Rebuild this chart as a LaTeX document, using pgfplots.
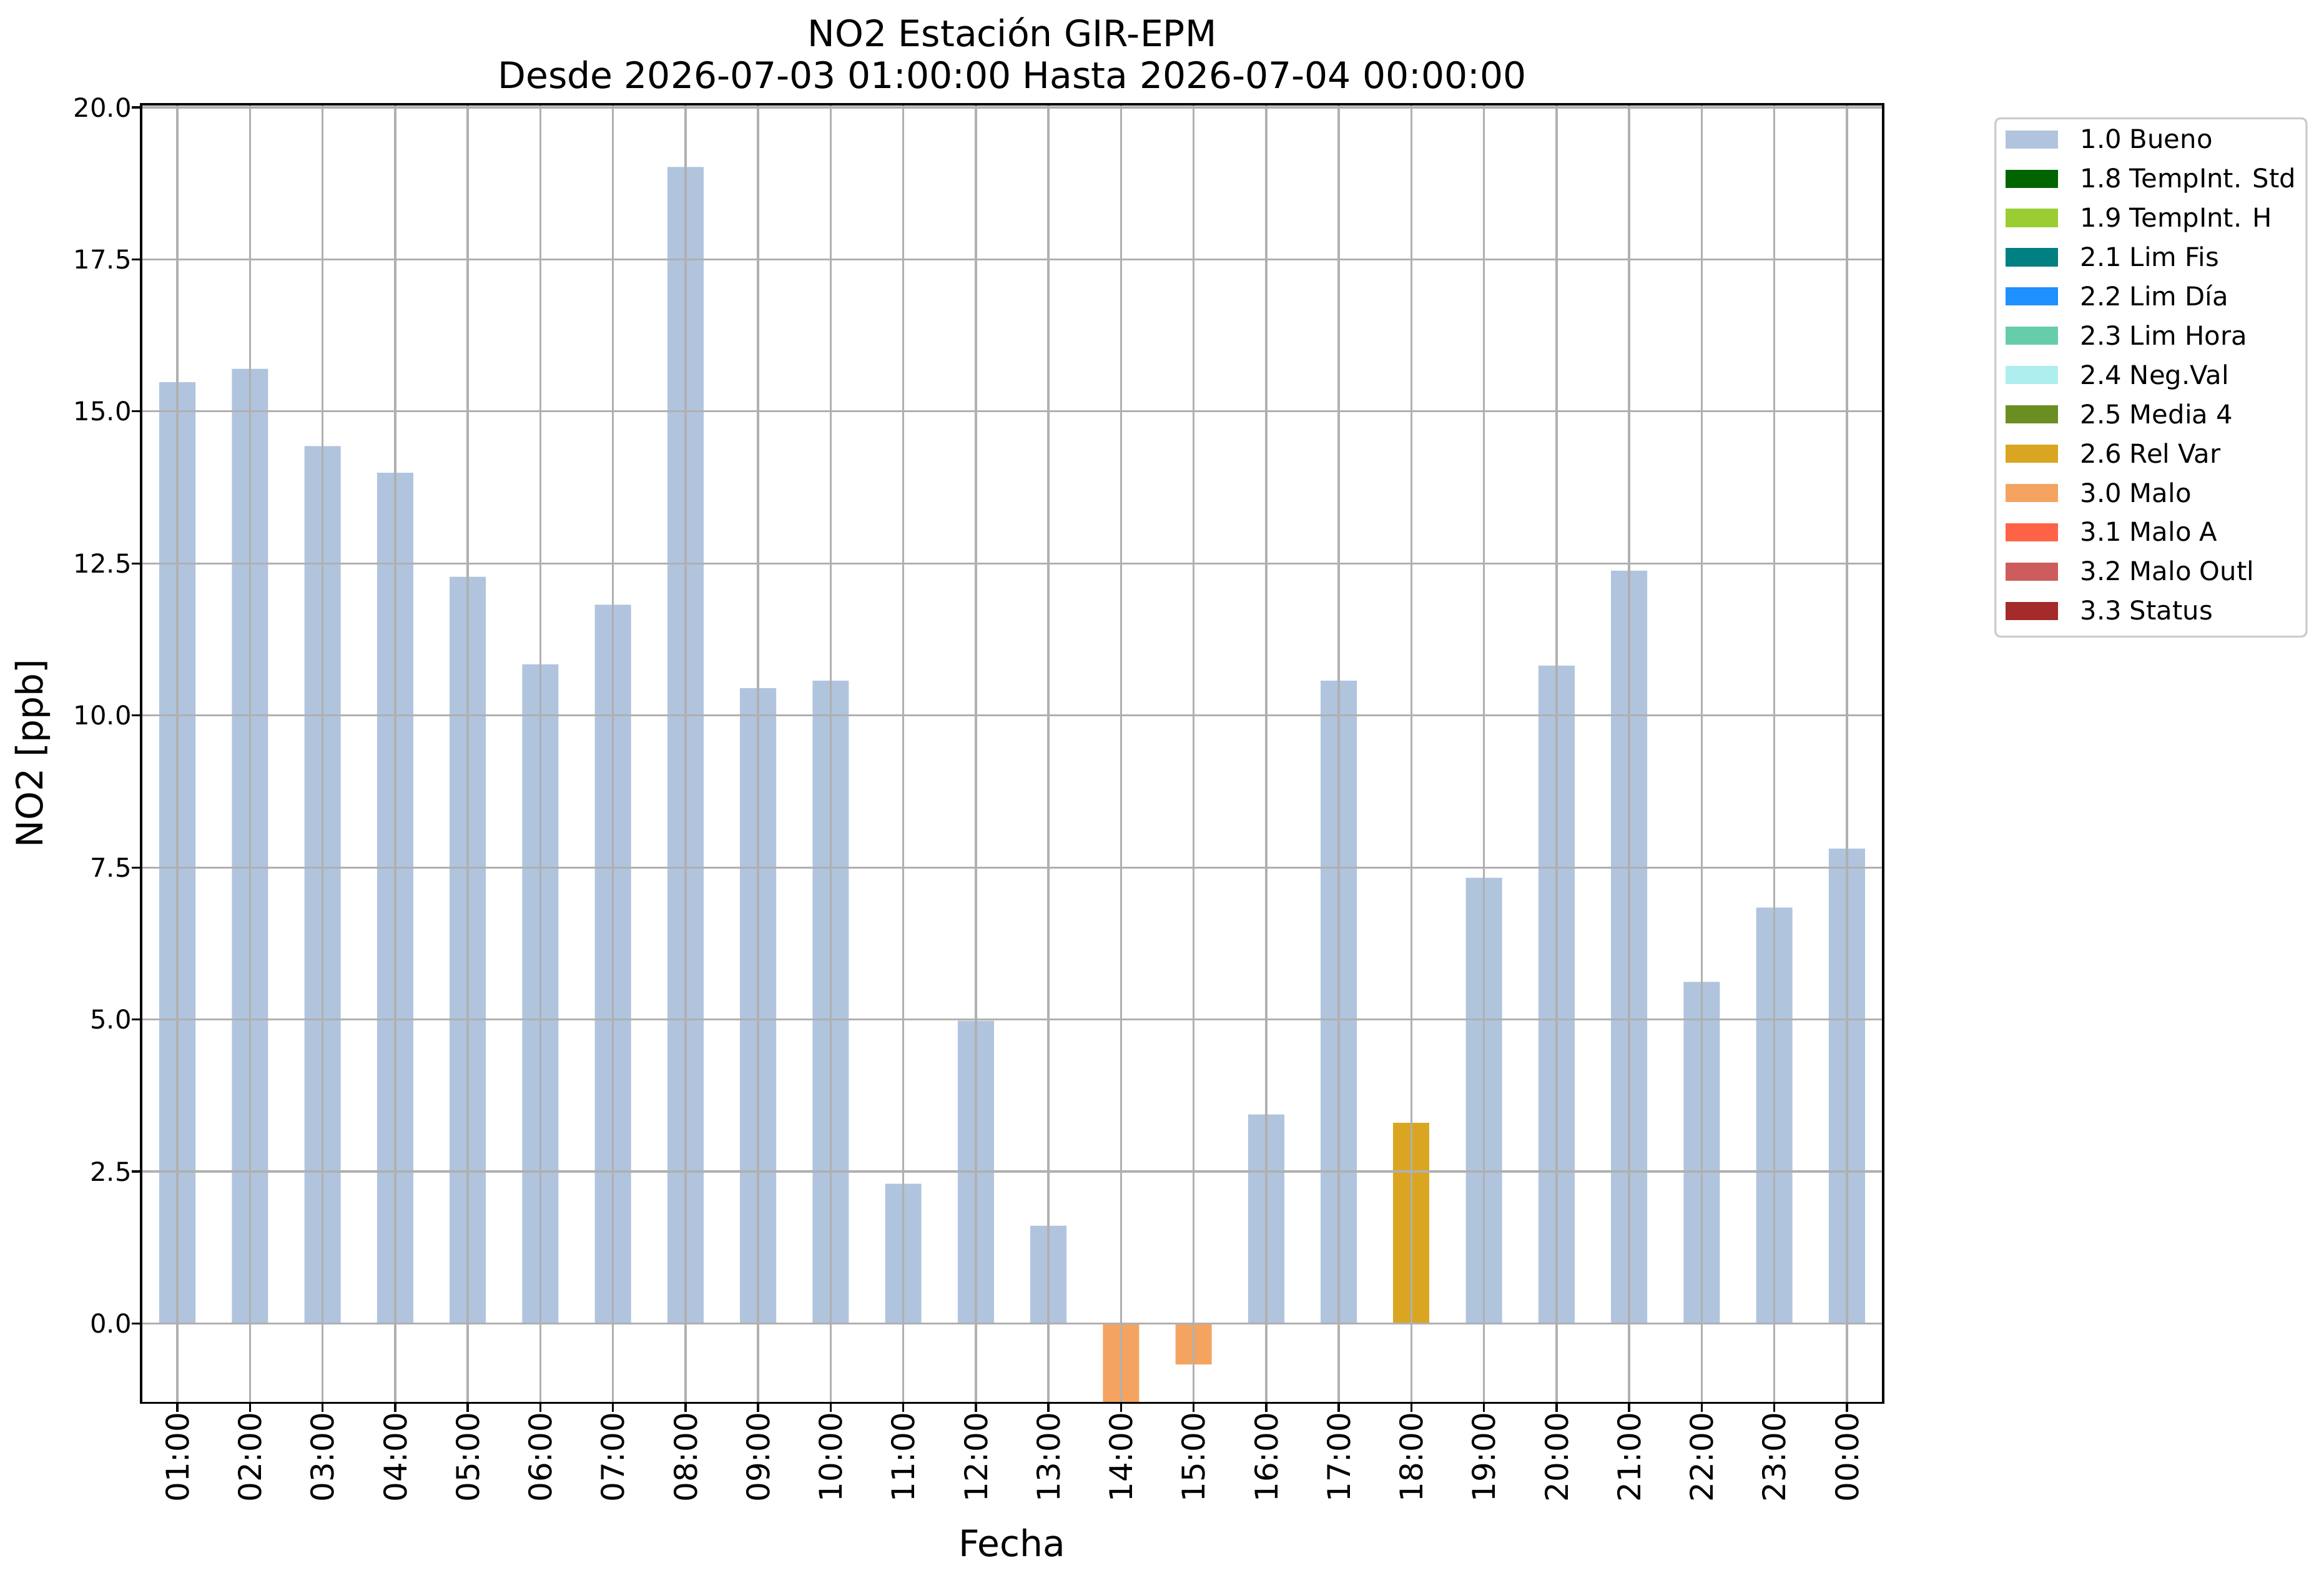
\documentclass[border=0pt]{standalone}
\usepackage{fontspec}
\setmainfont{DejaVu Sans}
\usepackage{pgfplots}
\pgfplotsset{compat=1.18}
\definecolor{cBueno}{HTML}{B0C4DE}
\definecolor{cStd}{HTML}{006400}
\definecolor{cH}{HTML}{9ACD32}
\definecolor{cFis}{HTML}{008080}
\definecolor{cDia}{HTML}{1E90FF}
\definecolor{cHora}{HTML}{66CDAA}
\definecolor{cNeg}{HTML}{AFEEEE}
\definecolor{cMedia}{HTML}{6B8E23}
\definecolor{cRel}{HTML}{DAA520}
\definecolor{cMalo}{HTML}{F4A460}
\definecolor{cMaloA}{HTML}{FF6347}
\definecolor{cOutl}{HTML}{CD5C5C}
\definecolor{cStatus}{HTML}{A52A2A}
\definecolor{cGrid}{HTML}{B0B0B0}
\begin{document}
\begin{tikzpicture}
\begin{axis}[
  scale only axis,
  width=669.6pt, height=499pt,
  xmin=-0.5, xmax=23.5,
  ymin=-1.3, ymax=20.05,
  xtick={0,...,23},
  xticklabels={01:00,02:00,03:00,04:00,05:00,06:00,07:00,08:00,09:00,10:00,11:00,12:00,13:00,14:00,15:00,16:00,17:00,18:00,19:00,20:00,21:00,22:00,23:00,00:00},
  ytick={0,2.5,...,20},
  /pgf/number format/fixed,
  /pgf/number format/fixed zerofill,
  /pgf/number format/precision=1,
  /pgf/number format/assume math mode=true,
  xticklabel style={rotate=90, anchor=east, inner sep=0pt, font=\fontsize{12}{14}\selectfont},
  yticklabel style={anchor=east, inner sep=0pt, font=\fontsize{10}{12}\selectfont},
  tick align=outside,
  major tick length=3.5pt,
  xtick pos=left, ytick pos=left,
  tick style={black, line width=0.8pt},
  axis line style={black, line width=0.8pt},
  grid=major,
  major grid style={cGrid, line width=0.8pt},
  axis on top,
  ybar,
  bar width=0.5,
  xlabel={Fecha},
  ylabel={NO2 [ppb]},
  every axis x label/.style={at={(axis description cs:0.5,-0.1183)}, anchor=base, inner sep=0pt, font=\fontsize{14}{16}\selectfont},
  every axis y label/.style={at={(axis description cs:-0.0517,0.5)}, rotate=90, anchor=south, inner sep=0pt, font=\fontsize{14}{16}\selectfont},
  legend image code/.code={\fill[#1, sharp corners] (0pt,0pt) rectangle (20pt,7pt);},
  legend style={at={(1.0638,0.99)}, anchor=north west, draw=black!20, line width=0.8pt, rounded corners=2pt,
    inner xsep=4pt, inner ysep=4pt, font=\fontsize{10}{12}\selectfont,
    row sep=5.1pt, column sep=8.6pt,
    nodes={inner sep=0pt, text height=7.6pt, text depth=2.4pt},
    cells={anchor=base west}},
]
\addplot[fill=cBueno, draw=none, bar shift=0pt] coordinates {
 (0,15.48) (1,15.70) (2,14.43) (3,13.99) (4,12.28) (5,10.84) (6,11.82) (7,19.02)
 (8,10.45) (9,10.57) (10,2.30) (11,4.98) (12,1.61) (15,3.44) (16,10.57)
 (18,7.33) (19,10.82) (20,12.38) (21,5.62) (22,6.84) (23,7.81)};
\addlegendentry{1.0 Bueno}
\addlegendimage{fill=cStd, draw=none}
\addlegendentry{1.8 TempInt. Std}
\addlegendimage{fill=cH, draw=none}
\addlegendentry{1.9 TempInt. H}
\addlegendimage{fill=cFis, draw=none}
\addlegendentry{2.1 Lim Fis}
\addlegendimage{fill=cDia, draw=none}
\addlegendentry{2.2 Lim Día}
\addlegendimage{fill=cHora, draw=none}
\addlegendentry{2.3 Lim Hora}
\addlegendimage{fill=cNeg, draw=none}
\addlegendentry{2.4 Neg.Val}
\addlegendimage{fill=cMedia, draw=none}
\addlegendentry{2.5 Media 4}
\addplot[fill=cRel, draw=none, bar shift=0pt] coordinates {(17,3.30)};
\addlegendentry{2.6 Rel Var}
\addplot[fill=cMalo, draw=none, bar shift=0pt] coordinates {(13,-1.40) (14,-0.67)};
\addlegendentry{3.0 Malo}
\addlegendimage{fill=cMaloA, draw=none}
\addlegendentry{3.1 Malo A}
\addlegendimage{fill=cOutl, draw=none}
\addlegendentry{3.2 Malo Outl}
\addlegendimage{fill=cStatus, draw=none}
\addlegendentry{3.3 Status}
\end{axis}
\node[anchor=base, inner sep=0pt, font=\fontsize{14}{16}\selectfont] at ([yshift=6pt]current axis.north) {Desde 2026-07-03 01:00:00 Hasta 2026-07-04 00:00:00};
\node[anchor=base, inner sep=0pt, font=\fontsize{14}{16}\selectfont] at ([yshift=22.08pt]current axis.north) {NO2 Estación GIR-EPM};
\path ([shift={(-54.24pt,-69.12pt)}]current axis.south west) rectangle ([shift={(169.44pt,40.08pt)}]current axis.north east);
\end{tikzpicture}
\end{document}
